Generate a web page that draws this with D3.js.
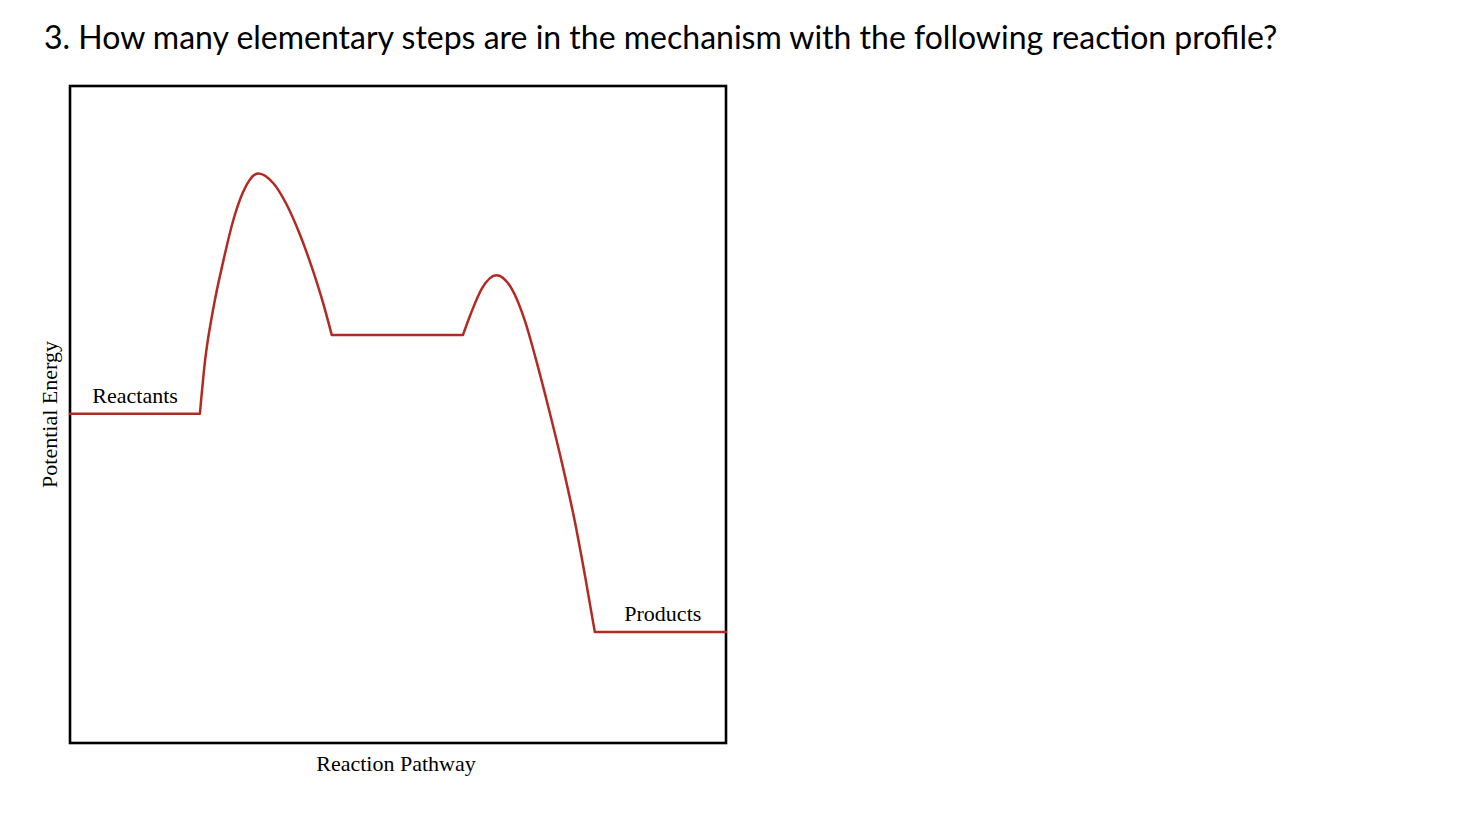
<!DOCTYPE html>
<html>
<head>
<meta charset="utf-8">
<script src="https://cdn.jsdelivr.net/npm/d3@7"></script>
<style>
  html, body { margin: 0; padding: 0; background: #fff; }
  svg { display: block; }
</style>
</head>
<body>
<svg id="chart" width="1462" height="820"></svg>
<script>
// ---- data (x = reaction pathway 0..100, y = potential energy 0..100) ----
const titleText = "3. How many elementary steps are in the mechanism with the following reaction profile?";
const xLabel = "Reaction Pathway";
const yLabel = "Potential Energy";
const levelLabels = ["Reactants", "Products"];

const reactantsLevel = [[0, 50.1], [19.8, 50.1]];
const hump1 = [[19.8, 50.1], [20.6, 58.3], [21.8, 65.9], [23.4, 73.5], [24.9, 79.6], [26.4, 83.9],
               [28.7, 86.7], [31.0, 85.2], [33.0, 82.0], [35.0, 77.5], [37.0, 72.0],
               [38.6, 66.9], [39.9, 62.1]];
const intermediateLevel = [[39.9, 62.1], [59.9, 62.1]];
const hump2 = [[59.9, 62.1], [61.2, 65.6], [62.8, 69.2], [65.0, 71.2], [67.3, 69.2], [69.4, 64.1],
               [71.0, 58.5], [73.0, 50.8], [75.0, 42.6], [77.0, 33.5], [78.5, 25.5], [80.0, 16.9]];
const productsLevel = [[80.0, 16.9], [100, 16.9]];

// ---- layout ----
const svg = d3.select("#chart");
const box = { x: 70, y: 86, w: 656, h: 657 };
const x = d3.scaleLinear().domain([0, 100]).range([box.x, box.x + box.w]);
const y = d3.scaleLinear().domain([0, 100]).range([box.y + box.h, box.y]);

svg.append("text")
  .attr("x", 44).attr("y", 49)
  .attr("font-family", "Lato, sans-serif")
  .attr("font-size", 32)
  .attr("fill", "#000")
  .text(titleText);

svg.append("rect")
  .attr("x", box.x).attr("y", box.y).attr("width", box.w).attr("height", box.h)
  .attr("fill", "none").attr("stroke", "#000").attr("stroke-width", 2.6);

const red = "#b22a22";
const curveLine = d3.line().x(d => x(d[0])).y(d => y(d[1])).curve(d3.curveMonotoneX);
const straight = d3.line().x(d => x(d[0])).y(d => y(d[1]));

const segs = [
  { d: reactantsLevel, gen: straight },
  { d: hump1, gen: curveLine },
  { d: intermediateLevel, gen: straight },
  { d: hump2, gen: curveLine },
  { d: productsLevel, gen: straight }
];
svg.append("path")
  .attr("d", segs.map(s => s.gen(s.d)).join(" "))
  .attr("fill", "none").attr("stroke", red).attr("stroke-width", 2.5)
  .attr("stroke-linejoin", "round").attr("stroke-linecap", "round");

const serif = "'Liberation Serif', 'Times New Roman', serif";
const fs = 22;
svg.append("text")
  .attr("x", x(3.4)).attr("y", y(50.1) - 11)
  .attr("font-family", serif).attr("font-size", fs).attr("fill", "#000")
  .text(levelLabels[0]);
svg.append("text")
  .attr("x", x(84.5)).attr("y", y(16.9) - 11)
  .attr("font-family", serif).attr("font-size", fs).attr("fill", "#000")
  .text(levelLabels[1]);

svg.append("text")
  .attr("x", 396).attr("y", box.y + box.h + 28)
  .attr("text-anchor", "middle")
  .attr("font-family", serif).attr("font-size", fs).attr("fill", "#000")
  .text(xLabel);

svg.append("text")
  .attr("transform", `translate(57, 414.5) rotate(-90)`)
  .attr("text-anchor", "middle")
  .attr("font-family", serif).attr("font-size", fs).attr("fill", "#000")
  .text(yLabel);
</script>
</body>
</html>
